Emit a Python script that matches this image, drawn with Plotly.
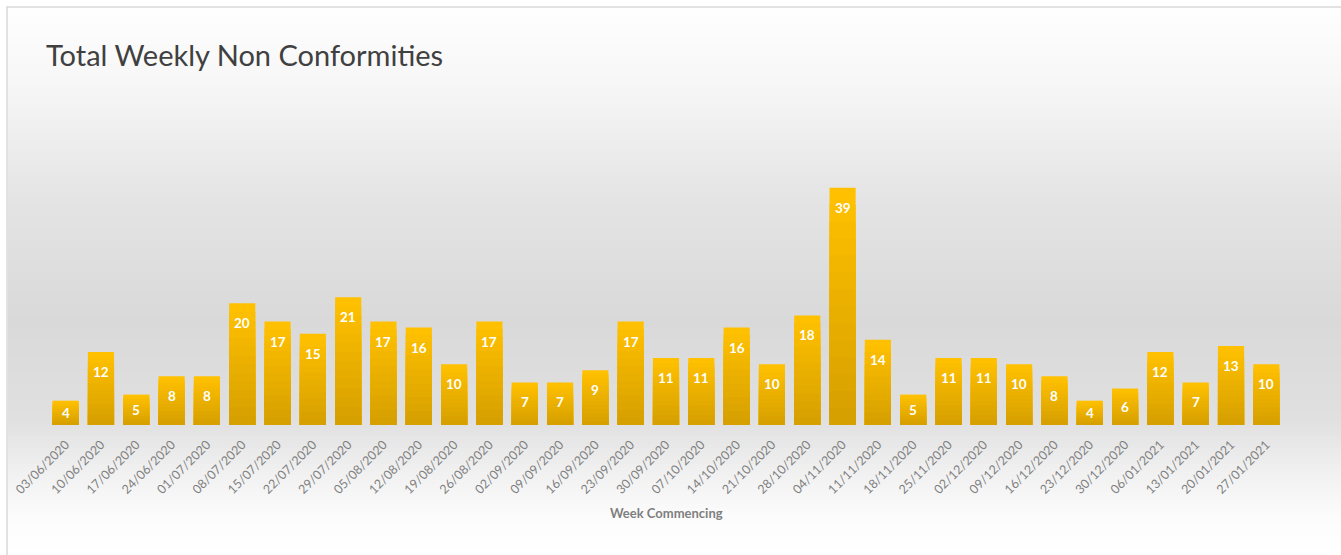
import plotly.graph_objects as go

weeks = ["03/06/2020","10/06/2020","17/06/2020","24/06/2020","01/07/2020","08/07/2020","15/07/2020",
         "22/07/2020","29/07/2020","05/08/2020","12/08/2020","19/08/2020","26/08/2020","02/09/2020",
         "09/09/2020","16/09/2020","23/09/2020","30/09/2020","07/10/2020","14/10/2020","21/10/2020",
         "28/10/2020","04/11/2020","11/11/2020","18/11/2020","25/11/2020","02/12/2020","09/12/2020",
         "16/12/2020","23/12/2020","30/12/2020","06/01/2021","13/01/2021","20/01/2021","27/01/2021"]
counts = [4,12,5,8,8,20,17,15,21,17,16,10,17,7,7,9,17,11,11,16,10,18,39,14,5,11,11,10,8,4,6,12,7,13,10]

W, H = 1341, 555
L, R = 48, 1284
T, B = 100, 425
YMAX = 53.4
px_per_unit = (B - T) / YMAX

def lerp(c1, c2, t):
    return tuple(round(a + (b - a) * t) for a, b in zip(c1, c2))

fig = go.Figure()

# background gradient bands (paper coordinates)
stops = [(0, (255,255,255)), (80, (247,247,247)), (200, (228,228,228)), (320, (217,217,217)),
         (420, (224,224,224)), (470, (240,240,240)), (520, (252,252,252)), (555, (255,255,255))]
def bg_color(py):
    for (y0, c0), (y1, c1) in zip(stops[:-1], stops[1:]):
        if y0 <= py <= y1:
            return lerp(c0, c1, (py - y0) / (y1 - y0))
    return stops[-1][1]

shapes = []
step = 4
for py in range(8, H, step):
    c = bg_color(py + step / 2)
    shapes.append(dict(type="rect", layer="below", xref="paper", yref="paper",
                       x0=(8 - L) / (R - L), x1=(W - L) / (R - L),
                       y0=(B - (py + step + 0.5)) / (B - T), y1=(B - py) / (B - T),
                       fillcolor="rgb(%d,%d,%d)" % c, line=dict(width=0)))
# border
shapes.append(dict(type="rect", layer="above", xref="paper", yref="paper",
                   x0=(7 - L) / (R - L), x1=(W + 5 - L) / (R - L),
                   y0=(B - (H + 5)) / (B - T), y1=(B - 7) / (B - T),
                   line=dict(color="#D9D9D9", width=1.5)))

# gradient bars: overlaid shrinking bars, darker toward the base
N = 14
top_c = (255, 192, 0)
bot_c = (214, 160, 0)
for k in range(N):
    frac = (N - k) / N
    c = lerp(top_c, bot_c, k / (N - 1))
    fig.add_trace(go.Bar(x=weeks, y=[v * frac for v in counts],
                         marker=dict(color="rgb(%d,%d,%d)" % c, line=dict(width=0)),
                         width=0.74, hoverinfo="skip", showlegend=False))

annotations = []
for wk, v in zip(weeks, counts):
    shift = -min(20, v * px_per_unit / 2)
    annotations.append(dict(x=wk, y=v, xref="x", yref="y", text=str(v), showarrow=False,
                            yshift=shift, yanchor="middle",
                            font=dict(family="Lato", size=13.5, color="white", weight="bold")))

annotations.append(dict(x=0.5, y=(B - 513) / (B - T), xref="paper", yref="paper",
                        text="Week Commencing", showarrow=False, yanchor="middle",
                        font=dict(family="Lato", size=13, color="#7F7F7F", weight="bold")))

fig.update_layout(
    width=W, height=H,
    margin=dict(l=L, r=W - R, t=T, b=H - B),
    paper_bgcolor="white", plot_bgcolor="rgba(0,0,0,0)",
    barmode="overlay", bargap=0.26,
    title=dict(text="Total Weekly Non Conformities", xref="container", yref="container",
               x=46 / W, xanchor="left", y=1 - 56 / H, yanchor="middle",
               font=dict(family="Lato", size=29, color="#404040")),
    xaxis=dict(type="category", tickangle=-45, showgrid=False, showline=False, zeroline=False,
               ticks="", ticklabelstandoff=9,
               tickfont=dict(family="Lato", size=12.5, color="#7F7F7F")),
    yaxis=dict(range=[0, YMAX], visible=False, showgrid=False),
    shapes=shapes, annotations=annotations,
)

fig.write_html("out.html")
